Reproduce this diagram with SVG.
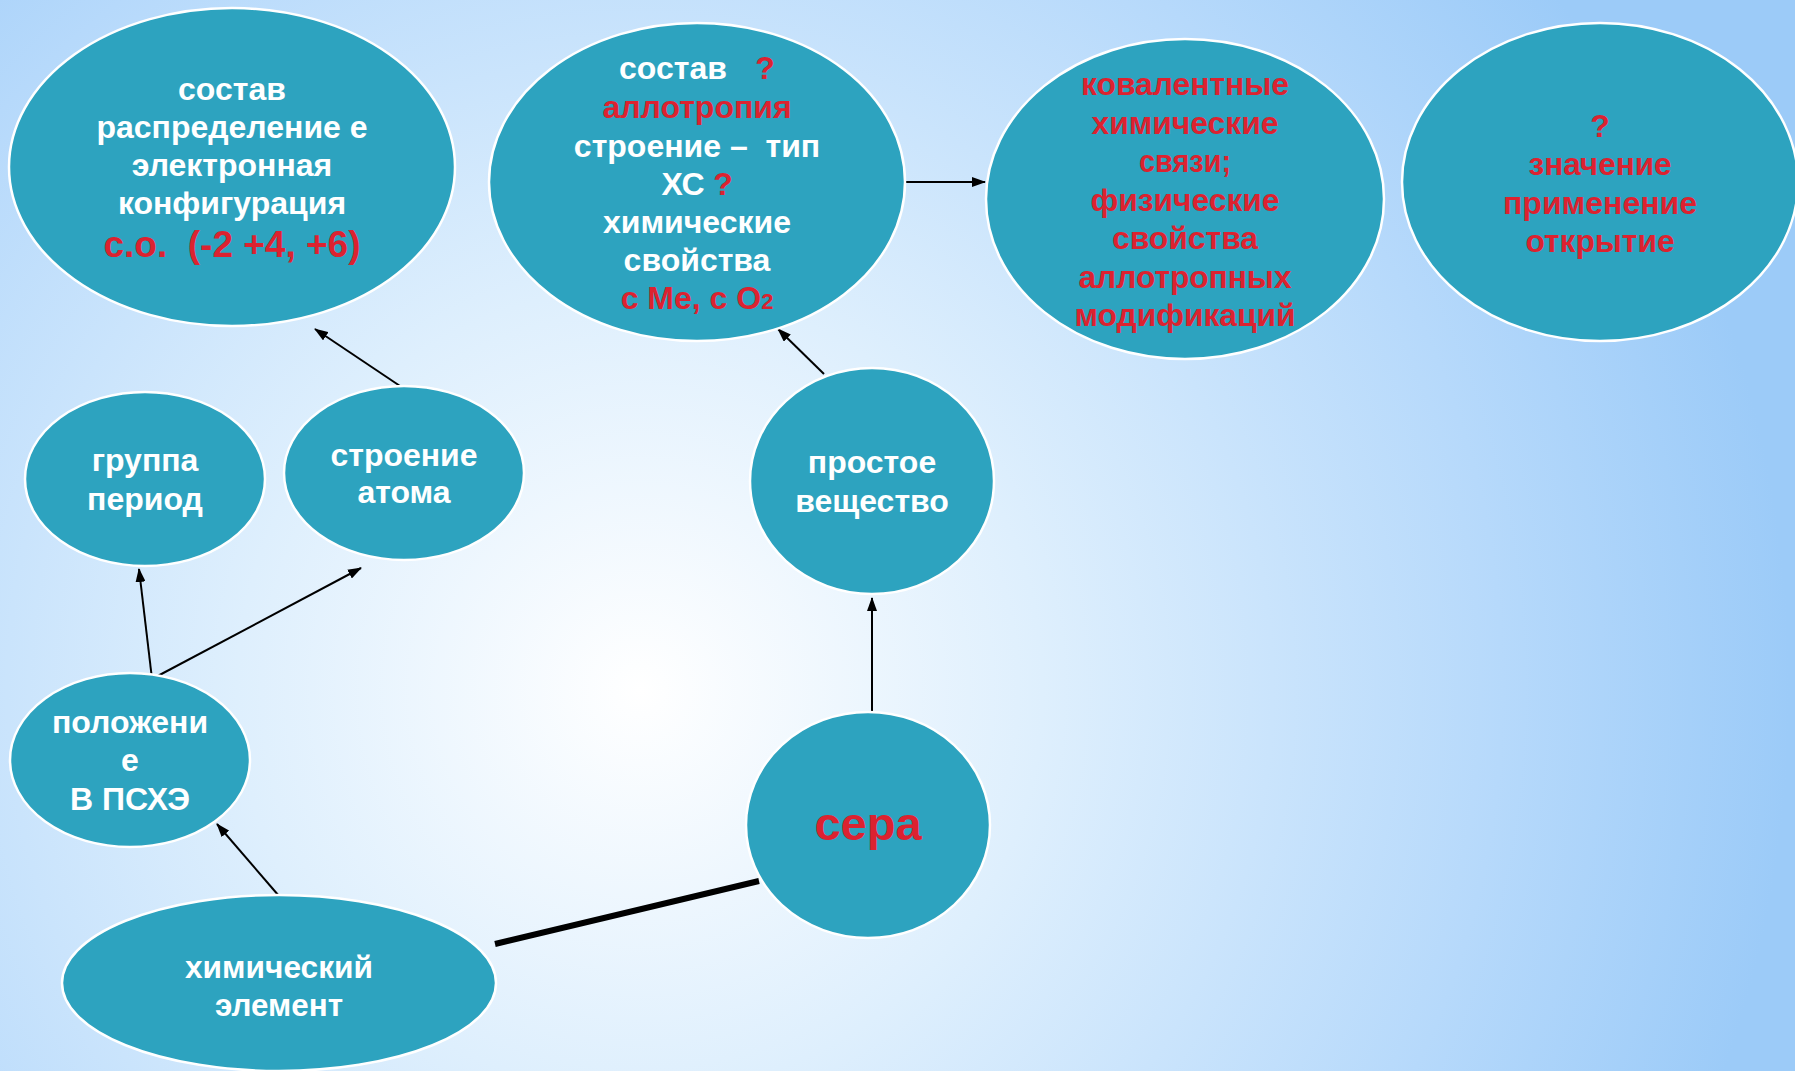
<svg xmlns="http://www.w3.org/2000/svg" width="1795" height="1071" viewBox="0 0 1795 1071">
<defs>
<radialGradient id="bg" cx="640" cy="690" r="1150" gradientUnits="userSpaceOnUse">
<stop offset="0" stop-color="#ffffff"/>
<stop offset="0.35" stop-color="#deeffd"/>
<stop offset="0.75" stop-color="#b6d9fb"/>
<stop offset="1" stop-color="#9ccbf8"/>
</radialGradient>
<marker id="ah" markerUnits="userSpaceOnUse" markerWidth="14" markerHeight="10" refX="13" refY="5" orient="auto">
<path d="M0,0 L14,5 L0,10 z" fill="#000"/>
</marker>
</defs>
<style>
.n{fill:#2da3bf;stroke:#ffffff;stroke-width:2.5}
.w{font-family:"Liberation Sans",Arial,sans-serif;font-weight:bold;font-size:32px;fill:#ffffff;text-anchor:middle}
.r{font-family:"Liberation Sans",Arial,sans-serif;font-weight:bold;font-size:32px;fill:#dc2230;text-anchor:middle}
.c{stroke:#000;stroke-width:2;fill:none}
</style>
<rect width="1795" height="1071" fill="url(#bg)"/>
<g id="connectors">
<line class="c" x1="409" y1="392" x2="315" y2="329" marker-end="url(#ah)"/>
<line class="c" x1="824" y1="374" x2="778" y2="329" marker-end="url(#ah)"/>
<line class="c" x1="904" y1="182" x2="985" y2="182" marker-end="url(#ah)"/>
<line class="c" x1="872" y1="711" x2="872" y2="598" marker-end="url(#ah)"/>
<line class="c" x1="152" y1="679" x2="139" y2="569" marker-end="url(#ah)"/>
<line class="c" x1="152" y1="679" x2="361" y2="568" marker-end="url(#ah)"/>
<line class="c" x1="279" y1="896" x2="217" y2="824" marker-end="url(#ah)"/>
<line x1="495" y1="944" x2="759" y2="881" stroke="#000" stroke-width="6"/>
</g>
<g id="node-sostav-atom">
<ellipse class="n" cx="232" cy="167" rx="223" ry="159"/>
<text class="w" x="232" y="100">состав</text>
<text class="w" x="232" y="138">распределение е</text>
<text class="w" x="232" y="176">электронная</text>
<text class="w" x="232" y="214">конфигурация</text>
<text class="r" x="232" y="257" style="font-size:37px" xml:space="preserve">с.о.  (-2 +4, +6)</text>
</g>
<g id="node-sostav-veshchestvo">
<ellipse class="n" cx="697" cy="182" rx="208" ry="159"/>
<text class="w" x="673" y="79">состав</text>
<text class="r" x="765" y="79">?</text>
<text class="r" x="697" y="118">аллотропия</text>
<text class="w" x="697" y="157" xml:space="preserve">строение –  тип</text>
<text class="w" x="683" y="195">ХС</text>
<text class="r" x="723" y="195">?</text>
<text class="w" x="697" y="233">химические</text>
<text class="w" x="697" y="271">свойства</text>
<text class="r" x="697" y="309">с Ме, с О<tspan style="font-size:22px">2</tspan></text>
</g>
<g id="node-kovalentnye">
<ellipse class="n" cx="1185" cy="199" rx="199" ry="160"/>
<text class="r" x="1185" y="95" textLength="208" lengthAdjust="spacingAndGlyphs">ковалентные</text>
<text class="r" x="1185" y="134" textLength="187" lengthAdjust="spacingAndGlyphs">химические</text>
<text class="r" x="1185" y="172" textLength="92" lengthAdjust="spacingAndGlyphs">связи;</text>
<text class="r" x="1185" y="211" textLength="189" lengthAdjust="spacingAndGlyphs">физические</text>
<text class="r" x="1185" y="249" textLength="146" lengthAdjust="spacingAndGlyphs">свойства</text>
<text class="r" x="1185" y="288" textLength="213" lengthAdjust="spacingAndGlyphs">аллотропных</text>
<text class="r" x="1185" y="326" textLength="221" lengthAdjust="spacingAndGlyphs">модификаций</text>
</g>
<g id="node-znachenie">
<ellipse class="n" cx="1600" cy="182" rx="198" ry="159"/>
<text class="r" x="1600" y="137">?</text>
<text class="r" x="1600" y="175" textLength="143" lengthAdjust="spacingAndGlyphs">значение</text>
<text class="r" x="1600" y="214" textLength="194" lengthAdjust="spacingAndGlyphs">применение</text>
<text class="r" x="1600" y="252" textLength="149" lengthAdjust="spacingAndGlyphs">открытие</text>
</g>
<g id="node-gruppa">
<ellipse class="n" cx="145" cy="479" rx="120" ry="87"/>
<text class="w" x="145" y="471">группа</text>
<text class="w" x="145" y="510">период</text>
</g>
<g id="node-stroenie">
<ellipse class="n" cx="404" cy="473" rx="120" ry="87"/>
<text class="w" x="404" y="466">строение</text>
<text class="w" x="404" y="503">атома</text>
</g>
<g id="node-polozhenie">
<ellipse class="n" cx="130" cy="760" rx="120" ry="87"/>
<text class="w" x="130" y="733">положени</text>
<text class="w" x="130" y="771">е</text>
<text class="w" x="130" y="810">В ПСХЭ</text>
</g>
<g id="node-prostoe">
<ellipse class="n" cx="872" cy="481" rx="122" ry="113"/>
<text class="w" x="872" y="473">простое</text>
<text class="w" x="872" y="512">вещество</text>
</g>
<g id="node-sera">
<ellipse class="n" cx="868" cy="825" rx="122" ry="113"/>
<text class="r" x="868" y="840" style="font-size:47px">сера</text>
</g>
<g id="node-khim-element">
<ellipse class="n" cx="279" cy="983" rx="217" ry="88"/>
<text class="w" x="279" y="978" textLength="188" lengthAdjust="spacingAndGlyphs">химический</text>
<text class="w" x="279" y="1016" textLength="128" lengthAdjust="spacingAndGlyphs">элемент</text>
</g>
</svg>
